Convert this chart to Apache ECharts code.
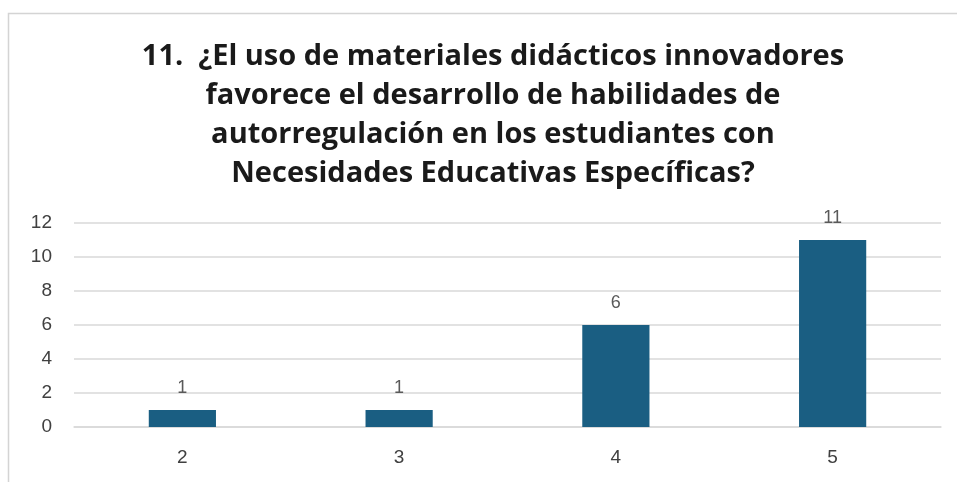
<!DOCTYPE html>
<html>
<head>
<meta charset="utf-8">
<script src="https://cdn.jsdelivr.net/npm/echarts@6/dist/echarts.min.js"></script>
<style>
	html, body { margin: 0; padding: 0; background: #fff; }
	#chart { width: 957px; height: 482px; }
</style>
</head>
<body>
<div id="chart"></div>
<script>
// question text, split the way the original wraps it
const titleLines = [
	'11.  ¿El uso de materiales didácticos innovadores',
	'favorece el desarrollo de habilidades de',
	'autorregulación en los estudiantes con',
	'Necesidades Educativas Específicas?'
];
const categories = ['2', '3', '4', '5'];
const counts = [1, 1, 6, 11];
const yTicks = [0, 2, 4, 6, 8, 10, 12];

var myChart = echarts.init(document.getElementById('chart'));
var option = {
	backgroundColor: '#fff',
	animation: false,
	graphic: [
		{
			// faint frame of the pasted chart box
			type: 'rect',
			shape: { x: 8.5, y: 13.5, width: 1000, height: 600 },
			style: { fill: 'none', stroke: '#d4d4d4', lineWidth: 1.5 },
			silent: true,
		},
	],
	title: {
		text: titleLines.join('\n'),
		left: 488,
		textAlign: 'center',
		top: 32,
		textStyle: {
			fontFamily: 'Open Sans, Liberation Sans, Arial, sans-serif',
			fontSize: 29,
			fontWeight: 'bold',
			color: '#1a1a1a',
			lineHeight: 39,
		},
	},
	grid: { left: 74, right: 16, top: 223, bottom: 55 },
	xAxis: {
		type: 'category',
		data: categories,
		axisLine: { show: true, lineStyle: { color: '#d9d9d9', width: 1.5 } },
		axisTick: { show: false },
		axisLabel: {
			margin: 21,
			fontFamily: 'Liberation Sans, Arial, sans-serif',
			fontSize: 19,
			color: '#404040',
		},
	},
	yAxis: {
		type: 'value',
		min: yTicks[0],
		max: yTicks[yTicks.length - 1],
		interval: 2,
		axisLine: { show: false },
		axisTick: { show: false },
		splitLine: { lineStyle: { color: '#d9d9d9', width: 1.5 } },
		axisLabel: {
			margin: 22,
			fontFamily: 'Liberation Sans, Arial, sans-serif',
			fontSize: 19,
			color: '#404040',
		},
	},
	series: [
		{
			type: 'bar',
			data: counts,
			barWidth: '31%',
			itemStyle: { color: '#1a5e82' },
			label: {
				show: true,
				position: 'top',
				distance: 13,
				fontFamily: 'Liberation Sans, Arial, sans-serif',
				fontSize: 18,
				color: '#595959',
			},
		},
	],
};
option && myChart.setOption(option);
</script>
</body>
</html>
